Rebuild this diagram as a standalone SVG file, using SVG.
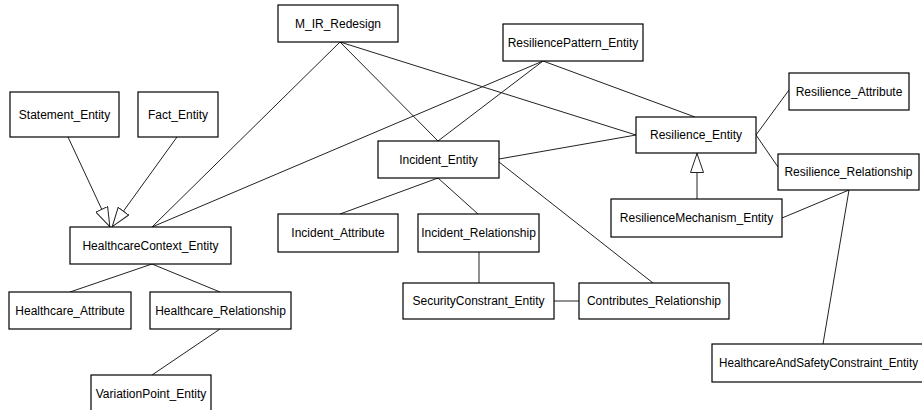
<svg xmlns="http://www.w3.org/2000/svg" width="922" height="410" viewBox="0 0 922 410">
<style>
.n rect{fill:#fff;stroke:#000;stroke-width:1.2}
.n text{font-family:"Liberation Sans",Arial,sans-serif;font-size:12px;fill:#000;text-anchor:middle}
.c line{stroke:#222;stroke-width:1}
</style>
<defs>
<marker id="gen" viewBox="0 0 20 14" refX="20" refY="7" markerWidth="20" markerHeight="14" markerUnits="userSpaceOnUse" orient="auto">
<path d="M0.5,0.5 L19.5,7 L0.5,13.5 Z" fill="#fff" stroke="#222" stroke-width="1"/>
</marker>
</defs>
<rect width="922" height="410" fill="#fff"/>
<g class="c" id="connectors">
<line x1="68" y1="137" x2="110" y2="227" marker-end="url(#gen)"/>
<line x1="177" y1="137" x2="112" y2="227" marker-end="url(#gen)"/>
<line x1="340" y1="42" x2="152" y2="227"/>
<line x1="340" y1="42" x2="438" y2="141"/>
<line x1="340" y1="42" x2="636" y2="135"/>
<line x1="543" y1="61" x2="152" y2="227"/>
<line x1="543" y1="61" x2="438" y2="141"/>
<line x1="543" y1="61" x2="695" y2="117"/>
<line x1="499" y1="159" x2="636" y2="135"/>
<line x1="499" y1="162" x2="653" y2="283"/>
<line x1="438" y1="178" x2="340" y2="214"/>
<line x1="438" y1="178" x2="478" y2="214"/>
<line x1="479" y1="252" x2="479" y2="283"/>
<line x1="554" y1="301" x2="579" y2="301"/>
<line x1="756" y1="135" x2="789" y2="90"/>
<line x1="756" y1="135" x2="778" y2="167"/>
<line x1="697" y1="199" x2="697" y2="153" marker-end="url(#gen)"/>
<line x1="782" y1="218" x2="849" y2="190"/>
<line x1="849" y1="190" x2="823" y2="344"/>
<line x1="152" y1="264" x2="70" y2="292"/>
<line x1="152" y1="264" x2="220" y2="292"/>
<line x1="220" y1="329" x2="152" y2="375"/>
</g>
<g class="n" id="m_ir_redesign"><rect x="278" y="5" width="120" height="37"/><text x="338" y="28">M_IR_Redesign</text></g>
<g class="n" id="resiliencepattern_entity"><rect x="503" y="24" width="140" height="37"/><text x="573" y="47">ResiliencePattern_Entity</text></g>
<g class="n" id="statement_entity"><rect x="10" y="92" width="109" height="45"/><text x="64.5" y="119">Statement_Entity</text></g>
<g class="n" id="fact_entity"><rect x="138" y="92" width="80" height="45"/><text x="178" y="119">Fact_Entity</text></g>
<g class="n" id="healthcarecontext_entity"><rect x="70" y="227" width="161" height="37"/><text x="150.5" y="250">HealthcareContext_Entity</text></g>
<g class="n" id="healthcare_attribute"><rect x="9" y="292" width="122" height="37"/><text x="70" y="315">Healthcare_Attribute</text></g>
<g class="n" id="healthcare_relationship"><rect x="150" y="292" width="141" height="37"/><text x="220.5" y="315">Healthcare_Relationship</text></g>
<g class="n" id="variationpoint_entity"><rect x="91" y="375" width="120" height="37"/><text x="151" y="398">VariationPoint_Entity</text></g>
<g class="n" id="incident_entity"><rect x="378" y="141" width="121" height="37"/><text x="438.5" y="164">Incident_Entity</text></g>
<g class="n" id="incident_attribute"><rect x="278" y="214" width="120" height="38"/><text x="338" y="237">Incident_Attribute</text></g>
<g class="n" id="incident_relationship"><rect x="418" y="214" width="121" height="38"/><text x="478.5" y="237">Incident_Relationship</text></g>
<g class="n" id="securityconstrant_entity"><rect x="403" y="283" width="151" height="36"/><text x="478.5" y="305">SecurityConstrant_Entity</text></g>
<g class="n" id="contributes_relationship"><rect x="579" y="283" width="150" height="36"/><text x="654" y="305">Contributes_Relationship</text></g>
<g class="n" id="resilience_entity"><rect x="636" y="117" width="120" height="36"/><text x="696" y="139">Resilience_Entity</text></g>
<g class="n" id="resilience_attribute"><rect x="789" y="73" width="120" height="37"/><text x="849" y="96">Resilience_Attribute</text></g>
<g class="n" id="resilience_relationship"><rect x="778" y="154" width="141" height="36"/><text x="848.5" y="176">Resilience_Relationship</text></g>
<g class="n" id="resiliencemechanism_entity"><rect x="611" y="199" width="171" height="38"/><text x="696.5" y="222">ResilienceMechanism_Entity</text></g>
<g class="n" id="healthcareandsafetyconstraint_entity"><rect x="712" y="344" width="230" height="38"/><text x="719" y="367" style="text-anchor:start" textLength="199" lengthAdjust="spacingAndGlyphs">HealthcareAndSafetyConstraint_Entity</text></g>
</svg>
